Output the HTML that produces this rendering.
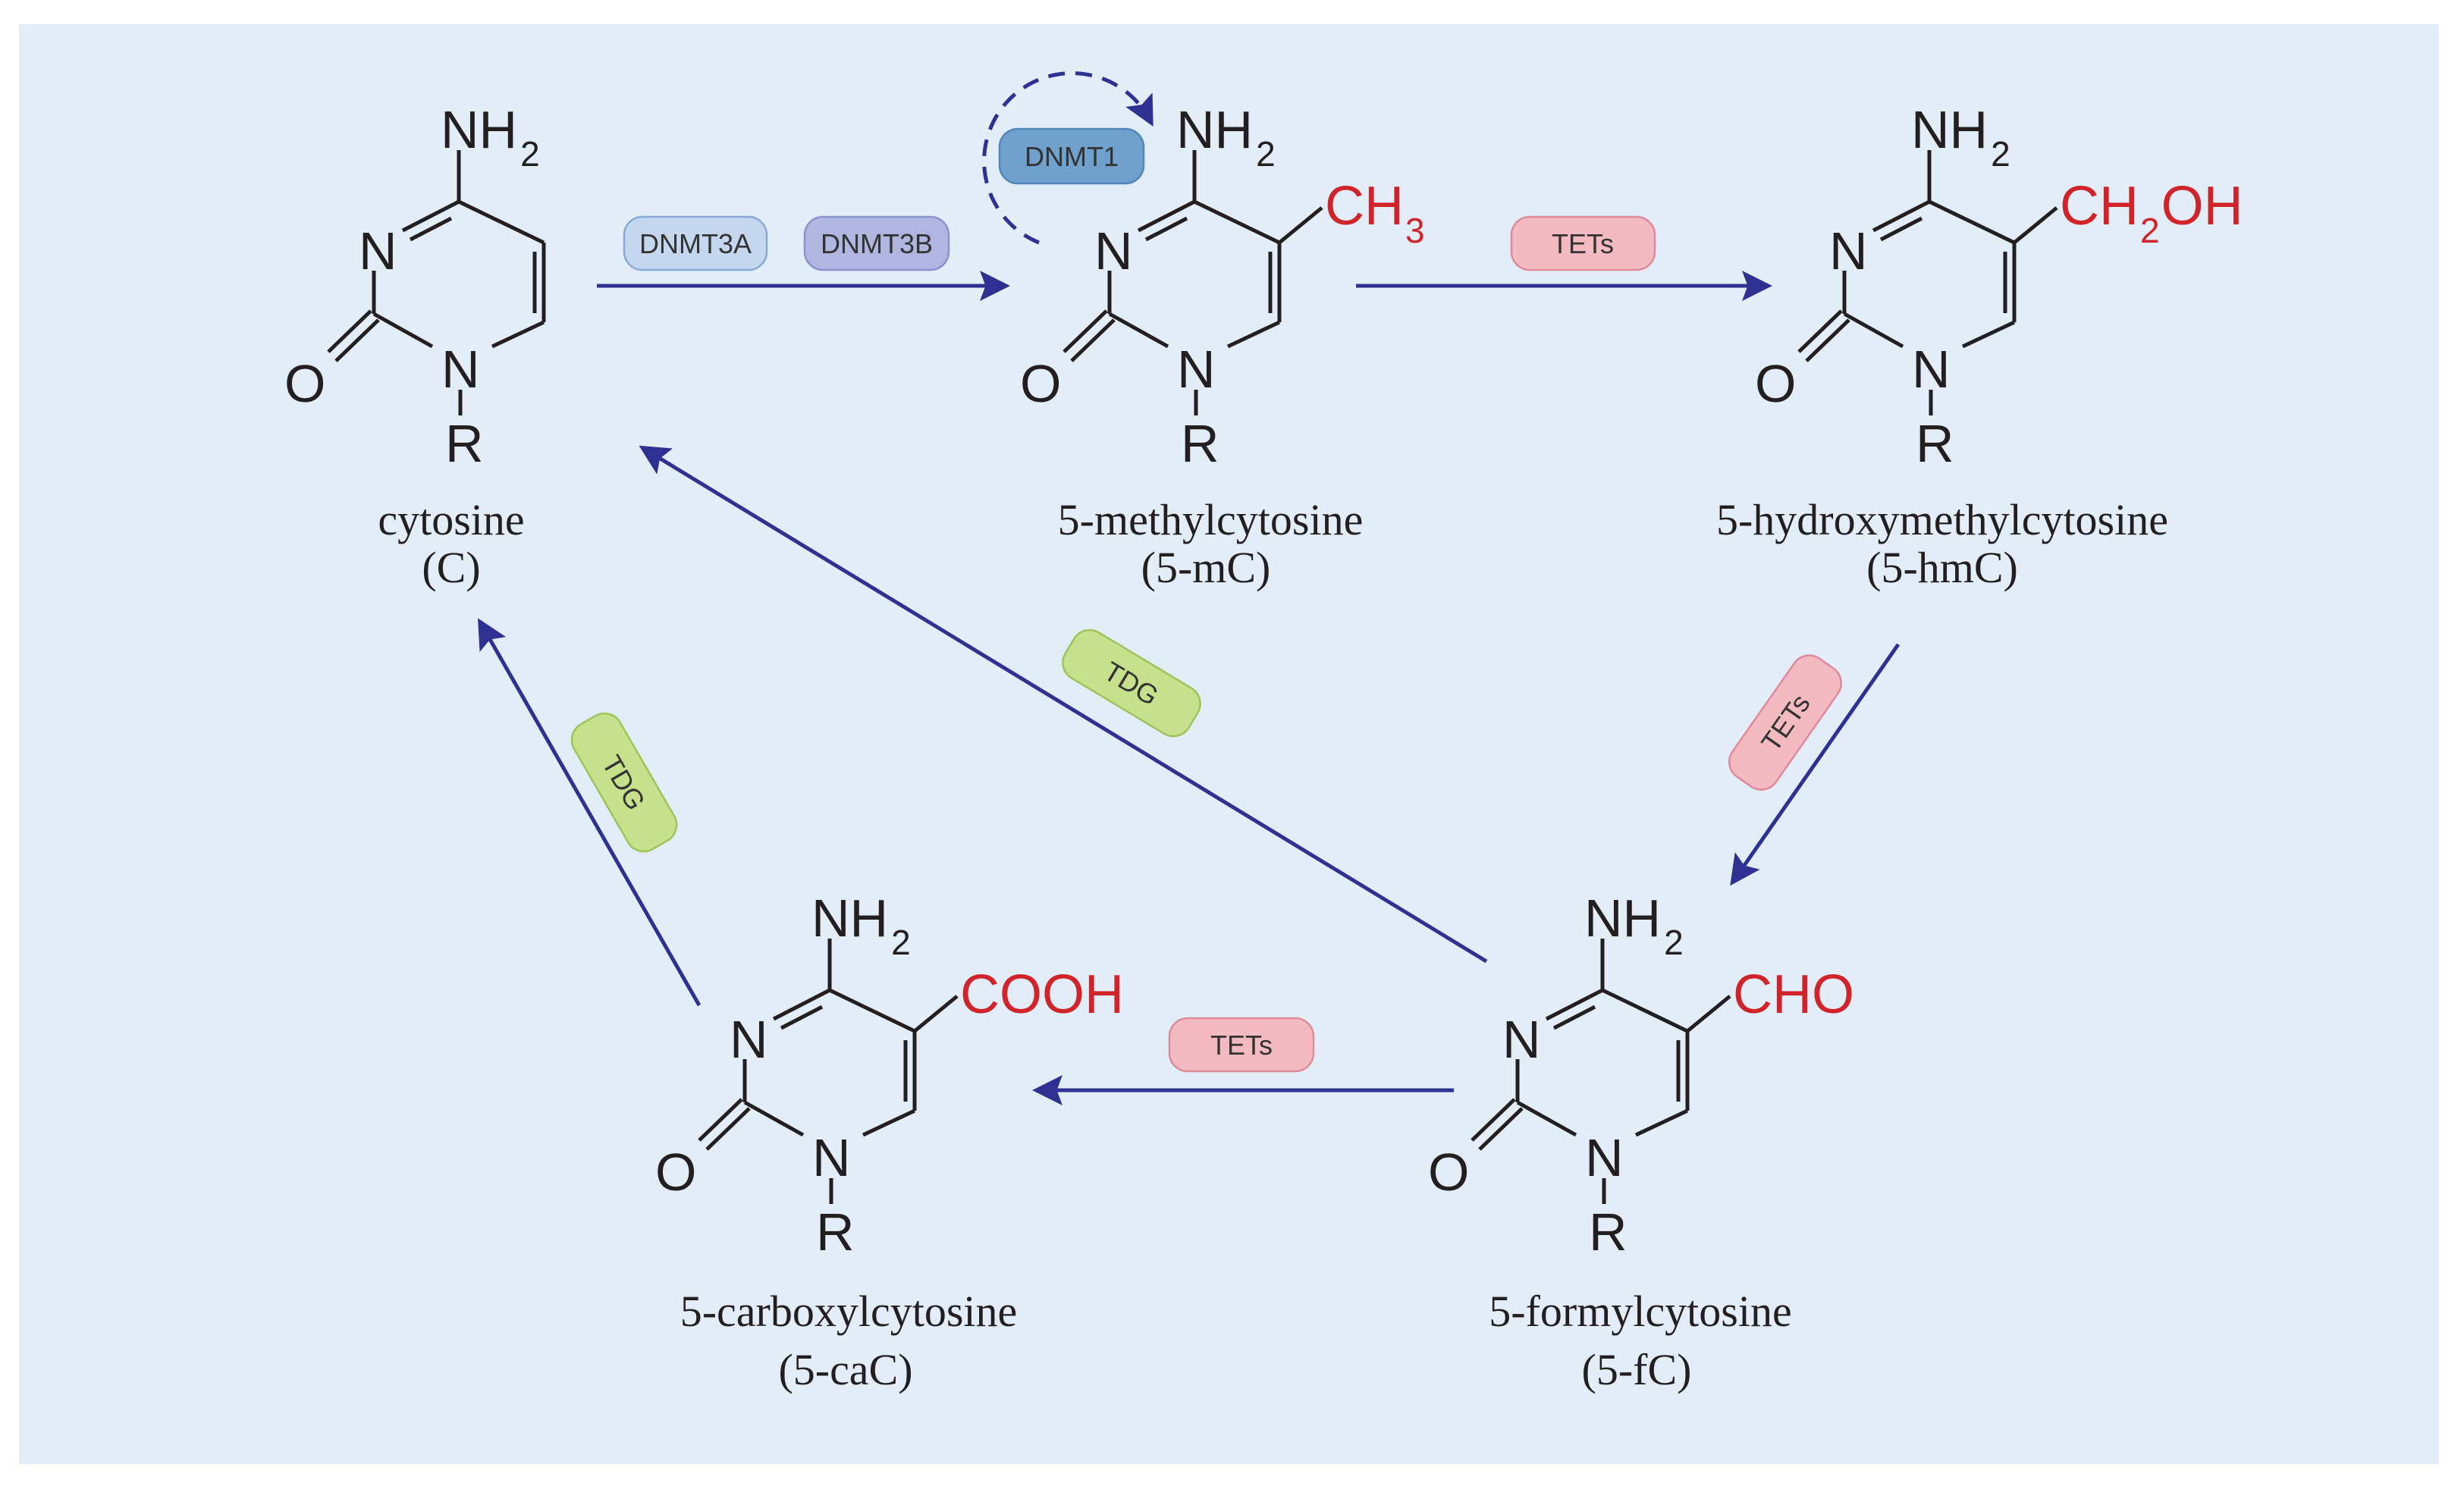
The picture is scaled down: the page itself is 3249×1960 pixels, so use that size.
<!DOCTYPE html>
<html><head><meta charset="utf-8"><style>
html,body{margin:0;padding:0;background:#fff;}
svg{display:block;}
.a{font-family:"Liberation Sans",sans-serif;fill:#231f20;font-size:70px;}
.s{font-family:"Liberation Serif",serif;fill:#231f20;font-size:58px;text-anchor:middle;}
.r{font-family:"Liberation Sans",sans-serif;fill:#d0232a;font-size:72px;}
.p{font-family:"Liberation Sans",sans-serif;fill:#333;font-size:36px;text-anchor:middle;}
</style></head><body>
<svg width="3249" height="1960" viewBox="0 0 3249 1960" xmlns="http://www.w3.org/2000/svg">
<defs>
<g id="ring" stroke="#231f20" stroke-width="5" fill="none" stroke-linecap="butt">
<line x1="0" y1="-68" x2="0" y2="0"/>
<line x1="0" y1="0" x2="112" y2="54"/>
<line x1="112" y1="54" x2="112" y2="159"/>
<line x1="100" y1="66" x2="100" y2="147"/>
<line x1="112" y1="159" x2="44" y2="191"/>
<line x1="-112" y1="148" x2="-35" y2="191"/>
<line x1="-112" y1="91" x2="-112" y2="148"/>
<line x1="-74" y1="38" x2="0" y2="0"/>
<line x1="-64" y1="50" x2="-10" y2="22"/>
<line x1="-116" y1="144" x2="-172" y2="198"/>
<line x1="-106" y1="156" x2="-162" y2="210"/>
<line x1="2" y1="248" x2="2" y2="282"/>
</g>
<marker id="ah" markerWidth="8" markerHeight="8" refX="6" refY="4" orient="auto" markerUnits="strokeWidth">
<path d="M0,0 L8,4 L0,8 L1.5,4 Z" fill="#2e3192"/>
</marker>
</defs>
<rect x="25" y="32" width="3191" height="1899" fill="#e3edf8"/>

<g transform="translate(605,266)">
<use href="#ring"/>
<text class="a" x="-24" y="-71">NH<tspan font-size="46" dy="24" dx="4">2</tspan></text>
<text class="a" x="-132" y="89">N</text>
<text class="a" x="-23" y="245">N</text>
<text class="a" x="-230" y="264">O</text>
<text class="a" x="-18" y="343">R</text>
</g>
<g transform="translate(1575,266)">
<use href="#ring"/>
<line x1="112" y1="54" x2="168" y2="8" stroke="#231f20" stroke-width="5"/>
<text class="a" x="-24" y="-71">NH<tspan font-size="46" dy="24" dx="4">2</tspan></text>
<text class="a" x="-132" y="89">N</text>
<text class="a" x="-23" y="245">N</text>
<text class="a" x="-230" y="264">O</text>
<text class="a" x="-18" y="343">R</text>
<text class="r" x="172" y="30">CH<tspan font-size="46" dy="24" dx="2">3</tspan></text>
</g>
<g transform="translate(2544,266)">
<use href="#ring"/>
<line x1="112" y1="54" x2="168" y2="8" stroke="#231f20" stroke-width="5"/>
<text class="a" x="-24" y="-71">NH<tspan font-size="46" dy="24" dx="4">2</tspan></text>
<text class="a" x="-132" y="89">N</text>
<text class="a" x="-23" y="245">N</text>
<text class="a" x="-230" y="264">O</text>
<text class="a" x="-18" y="343">R</text>
<text class="r" x="172" y="30">CH<tspan font-size="46" dy="24" dx="2">2</tspan><tspan dy="-24" dx="2">OH</tspan></text>
</g>
<g transform="translate(1094,1306)">
<use href="#ring"/>
<line x1="112" y1="54" x2="168" y2="8" stroke="#231f20" stroke-width="5"/>
<text class="a" x="-24" y="-71">NH<tspan font-size="46" dy="24" dx="4">2</tspan></text>
<text class="a" x="-132" y="89">N</text>
<text class="a" x="-23" y="245">N</text>
<text class="a" x="-230" y="264">O</text>
<text class="a" x="-18" y="343">R</text>
<text class="r" x="172" y="30">COOH</text>
</g>
<g transform="translate(2113,1306)">
<use href="#ring"/>
<line x1="112" y1="54" x2="168" y2="8" stroke="#231f20" stroke-width="5"/>
<text class="a" x="-24" y="-71">NH<tspan font-size="46" dy="24" dx="4">2</tspan></text>
<text class="a" x="-132" y="89">N</text>
<text class="a" x="-23" y="245">N</text>
<text class="a" x="-230" y="264">O</text>
<text class="a" x="-18" y="343">R</text>
<text class="r" x="172" y="30">CHO</text>
</g>

<text class="s" x="595" y="705">cytosine</text><text class="s" x="595" y="768">(C)</text>
<text class="s" x="1596" y="705">5-methylcytosine</text><text class="s" x="1590" y="768">(5-mC)</text>
<text class="s" x="2561" y="705">5-hydroxymethylcytosine</text><text class="s" x="2561" y="768">(5-hmC)</text>
<text class="s" x="1119" y="1749">5-carboxylcytosine</text><text class="s" x="1115" y="1826">(5-caC)</text>
<text class="s" x="2163" y="1749">5-formylcytosine</text><text class="s" x="2158" y="1826">(5-fC)</text>

<g stroke="#2e3192" stroke-width="5" fill="none">
<line x1="787" y1="377" x2="1322" y2="377" marker-end="url(#ah)"/>
<line x1="1788" y1="377" x2="2327" y2="377" marker-end="url(#ah)"/>
<line x1="2503" y1="850" x2="2287" y2="1160" marker-end="url(#ah)"/>
<line x1="1917" y1="1438" x2="1371" y2="1438" marker-end="url(#ah)"/>
<line x1="1960" y1="1268" x2="851" y2="593" marker-end="url(#ah)"/>
<line x1="922" y1="1326" x2="635" y2="824" marker-end="url(#ah)"/>
<path d="M1370 320 A116 116 0 1 1 1516 158" stroke-dasharray="22 14" marker-end="url(#ah)"/>
</g>

<g stroke-width="2.5">
<rect x="823" y="286" width="188" height="70" rx="24" fill="#c4d7ee" stroke="#86a9d8"/>
<rect x="1061" y="286" width="190" height="70" rx="24" fill="#b0b6e0" stroke="#8a92cf"/>
<rect x="1318" y="170" width="190" height="72" rx="24" fill="#6fa1cc" stroke="#4f86ba"/>
<rect x="1993" y="286" width="189" height="70" rx="24" fill="#f3bac2" stroke="#e0899a"/>
<rect x="1542" y="1343" width="190" height="70" rx="24" fill="#f3bac2" stroke="#e0899a"/>
<g transform="translate(2354,953) rotate(-55)"><rect x="-95" y="-35" width="190" height="70" rx="24" fill="#f3bac2" stroke="#e0899a"/><text class="p" x="0" y="13">TETs</text></g>
<g transform="translate(1492,901) rotate(31)"><rect x="-95" y="-35" width="190" height="70" rx="24" fill="#c6e08c" stroke="#9cc45a"/><text class="p" x="0" y="13">TDG</text></g>
<g transform="translate(823,1032) rotate(60)"><rect x="-95" y="-35" width="190" height="70" rx="24" fill="#c6e08c" stroke="#9cc45a"/><text class="p" x="0" y="13">TDG</text></g>
</g>
<text class="p" x="917" y="334">DNMT3A</text>
<text class="p" x="1156" y="334">DNMT3B</text>
<text class="p" x="1413" y="219">DNMT1</text>
<text class="p" x="2087" y="334">TETs</text>
<text class="p" x="1637" y="1391">TETs</text>
</svg>
</body></html>
